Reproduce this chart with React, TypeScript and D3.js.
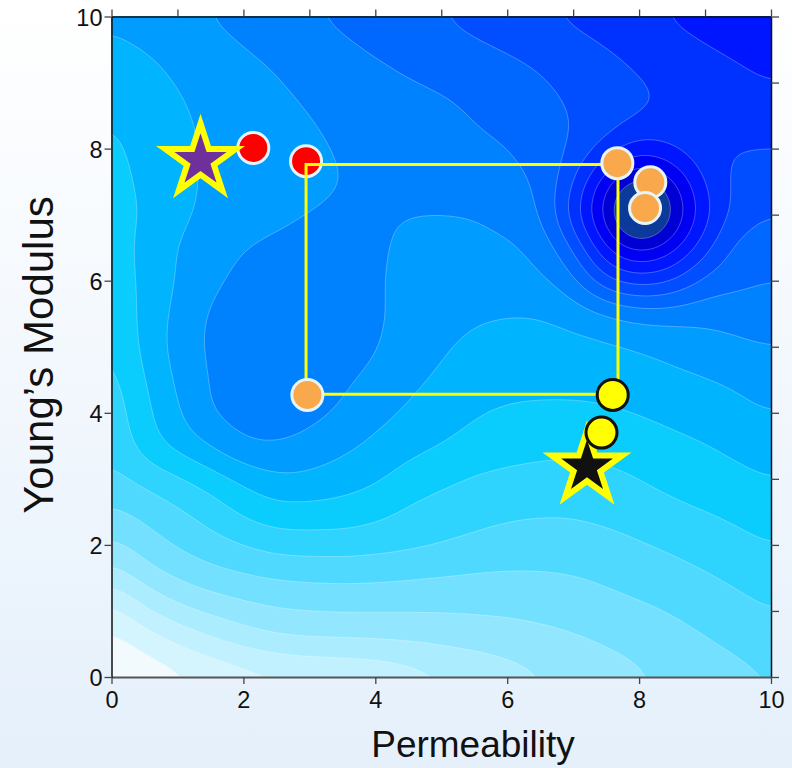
import { useEffect, useRef } from "react";
import * as d3 from "d3";

const W = 792;
const H = 768;
const plot = { left: 111.5, right: 771, top: 16.5, bottom: 677 };

// field sampled every 0.5 on both axes, rows from y = 10 (top) down to y = 0
const gridX = [0, 0.5, 1, 1.5, 2, 2.5, 3, 3.5, 4, 4.5, 5, 5.5, 6, 6.5, 7, 7.5, 8, 8.5, 9, 9.5, 10];
const gridY = [10, 9.5, 9, 8.5, 8, 7.5, 7, 6.5, 6, 5.5, 5, 4.5, 4, 3.5, 3, 2.5, 2, 1.5, 1, 0.5, 0];
const fieldRows = [
  [10.2, 10.5, 10.75, 11.05, 11.35, 11.65, 11.95, 12.2, 12.5, 12.75, 13.0, 13.3, 13.6, 13.9, 14.2, 14.5, 14.8, 15.1, 15.4, 15.7, 15.95],
  [9.75, 10.0, 10.3, 10.6, 10.97, 11.25, 11.5, 11.8, 12.1, 12.35, 12.6, 12.8, 13.05, 13.3, 13.6, 13.95, 14.3, 14.6, 14.9, 15.2, 15.5],
  [9.4, 9.7, 10.05, 10.35, 10.6, 10.95, 11.2, 11.45, 11.7, 11.95, 12.15, 12.35, 12.6, 12.9, 13.25, 13.6, 13.95, 14.2, 14.45, 14.7, 15.0],
  [9.05, 9.4, 9.85, 10.2, 10.45, 10.75, 11.0, 11.2, 11.4, 11.55, 11.75, 12.05, 12.35, 12.65, 13.05, 13.45, 13.95, 14.2, 14.3, 14.4, 14.5],
  [8.8, 9.3, 9.75, 10.15, 10.4, 10.6, 10.85, 11.1, 11.3, 11.5, 11.65, 11.8, 11.95, 12.4, 13.1, 14.4, 15.5, 15.0, 14.2, 14.05, 14.0],
  [8.65, 9.2, 9.75, 10.15, 10.35, 10.5, 10.7, 11.02, 11.2, 11.35, 11.45, 11.6, 11.8, 12.1, 13.9, 16.7, 18.5, 17.3, 14.85, 13.7, 13.5],
  [8.55, 9.1, 9.8, 10.2, 10.4, 10.7, 11.05, 11.2, 11.15, 11.02, 11.0, 11.05, 11.4, 11.9, 14.6, 17.5, 20.6, 18.2, 15.3, 13.6, 13.0],
  [8.45, 9.3, 10.05, 10.5, 11.0, 11.3, 11.4, 11.4, 11.2, 10.75, 10.6, 10.65, 10.85, 11.3, 13.0, 16.0, 17.4, 16.4, 14.35, 12.6, 12.5],
  [8.35, 9.25, 10.05, 10.8, 11.25, 11.45, 11.5, 11.45, 11.15, 10.65, 10.45, 10.45, 10.6, 10.8, 11.7, 13.8, 14.5, 14.05, 12.7, 12.3, 12.0],
  [8.15, 9.3, 10.25, 11.15, 11.4, 11.5, 11.5, 11.4, 11.15, 10.7, 10.35, 10.15, 10.05, 10.05, 10.4, 10.95, 11.45, 11.45, 11.35, 11.4, 11.5],
  [7.9, 9.3, 10.35, 11.2, 11.45, 11.55, 11.5, 11.4, 11.1, 10.5, 10.1, 9.8, 9.6, 9.6, 9.7, 9.85, 10.05, 10.3, 10.55, 10.85, 11.0],
  [7.6, 9.0, 10.15, 11.1, 11.4, 11.5, 11.4, 11.15, 10.75, 10.25, 9.85, 9.55, 9.35, 9.3, 9.3, 9.4, 9.6, 9.8, 9.95, 10.15, 10.5],
  [7.35, 8.75, 9.85, 11.05, 11.3, 11.4, 11.25, 10.9, 10.35, 9.85, 9.4, 9.05, 8.85, 8.8, 8.8, 8.85, 9.02, 9.25, 9.5, 9.75, 10.0],
  [7.15, 8.45, 9.3, 10.05, 10.95, 11.0, 10.7, 10.25, 9.75, 9.3, 9.0, 8.7, 8.5, 8.35, 8.3, 8.4, 8.55, 8.75, 8.95, 9.25, 9.5],
  [6.7, 7.3, 7.85, 8.5, 9.2, 9.8, 9.75, 9.45, 9.15, 8.6, 8.25, 7.9, 7.7, 7.6, 7.55, 7.7, 8.0, 8.25, 8.5, 8.75, 9.0],
  [5.8, 6.3, 6.85, 7.45, 8.2, 8.65, 8.65, 8.6, 8.3, 7.85, 7.55, 7.3, 7.15, 7.1, 7.12, 7.3, 7.55, 7.8, 8.0, 8.25, 8.5],
  [4.75, 5.5, 6.1, 6.6, 7.0, 7.4, 7.45, 7.45, 7.35, 7.2, 7.0, 6.8, 6.65, 6.55, 6.55, 6.65, 6.9, 7.15, 7.4, 7.7, 8.0],
  [3.35, 4.4, 5.1, 5.55, 5.85, 6.05, 6.15, 6.2, 6.15, 6.05, 5.95, 5.85, 5.8, 5.85, 5.95, 6.15, 6.4, 6.65, 6.9, 7.2, 7.5],
  [1.6, 2.8, 3.65, 4.2, 4.6, 4.9, 5.0, 5.05, 5.05, 5.05, 5.05, 5.1, 5.15, 5.25, 5.4, 5.6, 5.8, 6.05, 6.35, 6.65, 7.0],
  [0.6, 1.25, 2.0, 2.65, 3.2, 3.6, 3.75, 3.8, 3.85, 3.95, 4.1, 4.25, 4.4, 4.6, 4.8, 5.05, 5.3, 5.6, 5.9, 6.2, 6.5],
  [0.05, 0.35, 0.7, 1.1, 1.45, 1.7, 1.85, 1.95, 2.1, 2.45, 2.85, 3.2, 3.55, 3.9, 4.25, 4.55, 4.85, 5.15, 5.45, 5.72, 6.0],
];

const levels = [1, 2, 3, 4, 5, 6, 7, 8, 9, 10, 11, 12, 13, 14, 15, 16, 17, 18];
const levelColors = [
  "#f3fafe", "#d5f5fe", "#c1f1fe", "#abedfe", "#92e7fe", "#72e0fe", "#50d9fe",
  "#2ed3fe", "#0acdfe", "#00b5fe", "#009cff", "#0082ff", "#0068ff", "#004eff",
  "#0032ff", "#0016ff", "#0000f2", "#0000d4", "#0b3a9a",
];

const labelTicks = [0, 2, 4, 6, 8, 10];
const minorTicks = [0, 1, 2, 3, 4, 5, 6, 7, 8, 9, 10];

const redDots = [[2.15, 8.01], [2.95, 7.81]];
const orangeDots = [[7.67, 7.78], [8.17, 7.49], [8.09, 7.1], [2.97, 4.27]];
const yellowDots = [[7.6, 4.27], [7.43, 3.7]];
const purpleStar = [1.35, 7.82];
const blackStar = [7.21, 3.18];
const boxX = [2.95, 7.68];
const boxY = [4.28, 7.76];

const FONT = "'Liberation Sans', Arial, sans-serif";

const catmull = (p0, p1, p2, p3, t) =>
  0.5 * (2 * p1 + (p2 - p0) * t + (2 * p0 - 5 * p1 + 4 * p2 - p3) * t * t + (3 * p1 - p0 - 3 * p2 + p3) * t * t * t);

// smooth the coarse grid for drawing (bicubic through the read values)
function sampleField(gx, gy) {
  const nx = gridX.length, ny = gridY.length;
  const ci = (v, n) => Math.max(0, Math.min(n - 1, v));
  const i = Math.min(Math.floor(gx), nx - 2);
  const j = Math.min(Math.floor(gy), ny - 2);
  const tx = gx - i, ty = gy - j;
  const cols = [];
  for (let m = -1; m <= 2; m++) {
    const r = fieldRows[ci(j + m, ny)];
    cols.push(catmull(r[ci(i - 1, nx)], r[ci(i, nx)], r[ci(i + 1, nx)], r[ci(i + 2, nx)], tx));
  }
  return catmull(cols[0], cols[1], cols[2], cols[3], ty);
}

const ContourChart = () => {
  const svgRef = useRef(null);

  useEffect(() => {
    const svg = d3.select(svgRef.current);
    svg.selectAll("*").remove();

    const x = d3.scaleLinear().domain([0, 10]).range([plot.left, plot.right]);
    const y = d3.scaleLinear().domain([0, 10]).range([plot.bottom, plot.top]);

    const defs = svg.append("defs");
    const grad = defs.append("linearGradient").attr("id", "bg").attr("x1", 0).attr("y1", 0).attr("x2", 0).attr("y2", 1);
    grad.append("stop").attr("offset", "0%").attr("stop-color", "#ffffff");
    grad.append("stop").attr("offset", "100%").attr("stop-color", "#e5f0fb");
    defs.append("clipPath").attr("id", "plotClip")
      .append("rect")
      .attr("x", plot.left).attr("y", plot.top)
      .attr("width", plot.right - plot.left).attr("height", plot.bottom - plot.top);

    svg.append("rect").attr("width", W).attr("height", H).attr("fill", "url(#bg)");

    // contour field
    const sub = 10;
    const step = (gridX[1] - gridX[0]) / sub;
    const n = (gridX.length - 1) * sub + 1;
    const values = new Float64Array(n * n);
    for (let k = 0; k < n; k++) {
      for (let i = 0; i < n; i++) {
        values[k * n + i] = sampleField(i / sub, k / sub);
      }
    }
    if (d3.blur2) d3.blur2({ data: values, width: n, height: n }, 4);

    const contours = d3.contours().size([n, n]).thresholds(levels)(Array.from(values));
    const proj = d3.geoTransform({
      point(cx, cy) {
        this.stream.point(x((cx - 0.5) * step), y(10 - (cy - 0.5) * step));
      },
    });
    const path = d3.geoPath(proj);

    const field = svg.append("g").attr("clip-path", "url(#plotClip)");
    field.append("rect")
      .attr("x", plot.left).attr("y", plot.top)
      .attr("width", plot.right - plot.left).attr("height", plot.bottom - plot.top)
      .attr("fill", levelColors[0]);
    field.selectAll("path")
      .data(contours)
      .join("path")
      .attr("d", path)
      .attr("fill", (d) => levelColors[d.value])
      .attr("stroke", "rgba(255,255,255,0.35)")
      .attr("stroke-width", 0.8);

    // axes
    const axisStyle = (g, color, width) => {
      g.select(".domain").attr("stroke", color).attr("stroke-width", width);
      g.selectAll(".tick line").attr("stroke", "#444").attr("stroke-width", 1.3);
      g.selectAll(".tick text").attr("fill", "#111").attr("font-size", 23.5).attr("font-family", FONT);
    };
    svg.append("g").attr("transform", `translate(0,${plot.top})`)
      .call(d3.axisTop(x).tickValues(minorTicks).tickSize(7).tickSizeOuter(0).tickFormat(() => ""))
      .call((g) => axisStyle(g, "#111", 1.5));
    svg.append("g").attr("transform", `translate(${plot.right},0)`)
      .call(d3.axisRight(y).tickValues(minorTicks).tickSize(8).tickSizeOuter(0).tickFormat(() => ""))
      .call((g) => axisStyle(g, "#111", 1.5));
    svg.append("g").attr("transform", `translate(0,${plot.bottom})`)
      .call(d3.axisBottom(x).tickValues(labelTicks).tickSize(7).tickPadding(7).tickSizeOuter(0))
      .call((g) => axisStyle(g, "#555", 2));
    svg.append("g").attr("transform", `translate(${plot.left},0)`)
      .call(d3.axisLeft(y).tickValues(labelTicks).tickSize(7).tickPadding(2).tickSizeOuter(0))
      .call((g) => axisStyle(g, "#111", 1.5))
      .call((g) => g.selectAll(".tick text").attr("dy", "0.37em"));

    // markers
    const marks = svg.append("g");
    marks.selectAll("circle.red")
      .data(redDots)
      .join("circle")
      .attr("cx", (d) => x(d[0])).attr("cy", (d) => y(d[1])).attr("r", 15.5)
      .attr("fill", "#ff0000").attr("stroke", "#e6f4f6").attr("stroke-width", 3);

    const box = [[boxX[0], boxY[1]], [boxX[1], boxY[1]], [boxX[1], boxY[0]], [boxX[0], boxY[0]]];
    marks.append("path")
      .attr("d", d3.line().x((d) => x(d[0])).y((d) => y(d[1])).curve(d3.curveLinearClosed)(box))
      .attr("fill", "none").attr("stroke", "#ffff00").attr("stroke-width", 3);

    marks.selectAll("circle.orange")
      .data(orangeDots)
      .join("circle")
      .attr("cx", (d) => x(d[0])).attr("cy", (d) => y(d[1])).attr("r", 15.5)
      .attr("fill", "#f9a84c").attr("stroke", "#e6f4f4").attr("stroke-width", 3);

    const star = d3.lineRadial().curve(d3.curveLinearClosed)(
      d3.range(10).map((k) => [(k * Math.PI) / 5, k % 2 ? 14.1 : 37])
    );
    [[purpleStar, "#70309c"], [blackStar, "#111111"]].forEach(([p, fill]) => {
      marks.append("path")
        .attr("d", star)
        .attr("transform", `translate(${x(p[0])},${y(p[1])})`)
        .attr("fill", fill).attr("stroke", "#ffff00").attr("stroke-width", 6)
        .attr("stroke-linejoin", "miter");
    });

    marks.selectAll("circle.yellow")
      .data(yellowDots)
      .join("circle")
      .attr("cx", (d) => x(d[0])).attr("cy", (d) => y(d[1])).attr("r", 15.5)
      .attr("fill", "#ffff00").attr("stroke", "#111").attr("stroke-width", 3);

    // axis titles
    svg.append("text")
      .attr("x", 473).attr("y", 757)
      .attr("text-anchor", "middle")
      .attr("font-family", FONT).attr("font-size", 37).attr("fill", "#111")
      .text("Permeability");
    svg.append("text")
      .attr("transform", "translate(53,355) rotate(-90)")
      .attr("text-anchor", "middle")
      .attr("font-family", FONT).attr("font-size", 42).attr("fill", "#111")
      .text("Young\u2019s Modulus");
  }, []);

  return (
    <svg
      ref={svgRef}
      width={W}
      height={H}
      style={{ position: "absolute", left: 0, top: 0, display: "block" }}
    />
  );
};

export default function App() {
  return <ContourChart />;
}
